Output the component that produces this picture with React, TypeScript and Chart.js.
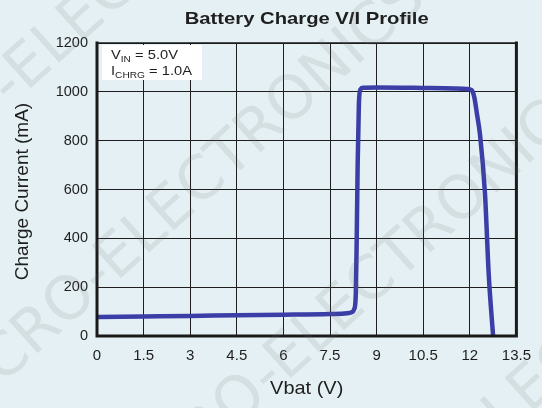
import { useEffect, useRef } from 'react';
import { Chart, registerables } from 'chart.js';

Chart.register(...registerables);

// ---- data ----
const vbat = [0, 1.5, 3, 4.5, 6, 7.5, 8.05, 8.2, 8.28, 8.33, 8.36, 8.39, 8.43, 8.48, 8.56, 9, 10.5, 11.5, 11.9, 12.05, 12.1, 12.15, 12.23, 12.33, 12.49, 12.61, 12.75];
const chargeCurrent = [78, 80, 82, 85, 87, 90, 93, 97, 110, 170, 400, 700, 950, 1010, 1017, 1018, 1016, 1014, 1012, 1008, 998, 975, 910, 823, 580, 250, 0];
const xTickLabels = ['0', '1.5', '3', '4.5', '6', '7.5', '9', '10.5', '12', '13.5'];
const yTickLabels = ['0', '200', '400', '600', '800', '1000', '1200'];
const titleText = 'Battery Charge V/I Profile';
const xTitle = 'Vbat (V)';
const yTitle = 'Charge Current (mA)';
const noteLines = [
  [{ t: 'V' }, { t: 'IN', sub: true }, { t: ' = 5.0V' }],
  [{ t: 'I' }, { t: 'CHRG', sub: true }, { t: ' = 1.0A' }],
];
const watermark = 'MICRO-ELECTRONICS';

const FONT = '"Liberation Sans", Arial, Helvetica, sans-serif';
const TEXT = '#1e1e1e';

function scaledText(ctx: CanvasRenderingContext2D, text: string, x: number, y: number, font: string, sx: number, align: CanvasTextAlign) {
  ctx.save();
  ctx.font = font;
  ctx.textAlign = align;
  ctx.textBaseline = 'alphabetic';
  ctx.translate(x, y);
  ctx.scale(sx, 1);
  ctx.fillText(text, 0, 0);
  ctx.restore();
}

const customPlugin = {
  id: 'custom',
  beforeDraw(chart: any) {
    const ctx = chart.ctx as CanvasRenderingContext2D;
    ctx.save();
    ctx.fillStyle = '#e4f0f4';
    ctx.fillRect(0, 0, chart.width, chart.height);
    ctx.restore();
  },
  beforeDatasetsDraw(chart: any) {
    const ctx = chart.ctx as CanvasRenderingContext2D;
    const ca = chart.chartArea;
    ctx.save();
    ctx.fillStyle = '#ffffff';
    ctx.fillRect(ca.left + 5, ca.top + 2, 100, 35);
    ctx.fillStyle = TEXT;
    const baselines = [ca.top + 16, ca.top + 32];
    noteLines.forEach((segs, i) => {
      let x = ca.left + 14;
      const y = baselines[i];
      segs.forEach((s: any) => {
        ctx.save();
        ctx.font = s.sub ? `9px ${FONT}` : `13px ${FONT}`;
        ctx.textBaseline = 'alphabetic';
        ctx.textAlign = 'left';
        ctx.translate(x, y + (s.sub ? 3 : 0));
        ctx.scale(1.13, 1);
        ctx.fillText(s.t, 0, 0);
        const w = ctx.measureText(s.t).width * 1.13;
        ctx.restore();
        x += w;
      });
    });
    ctx.restore();
  },
  afterDraw(chart: any) {
    const ctx = chart.ctx as CanvasRenderingContext2D;
    const ca = chart.chartArea;
    // frame
    ctx.save();
    ctx.strokeStyle = '#1a1a1a';
    ctx.lineCap = 'square';
    ctx.lineWidth = 3;
    ctx.beginPath();
    ctx.moveTo(ca.left, ca.top);
    ctx.lineTo(ca.left, ca.bottom);
    ctx.lineTo(ca.right, ca.bottom);
    ctx.lineTo(ca.right, ca.top);
    ctx.stroke();
    ctx.lineWidth = 1.5;
    ctx.beginPath();
    ctx.moveTo(ca.left, ca.top);
    ctx.lineTo(ca.right, ca.top);
    ctx.stroke();
    ctx.restore();

    // titles
    ctx.save();
    ctx.fillStyle = TEXT;
    scaledText(ctx, titleText, (ca.left + ca.right) / 2, 24, `bold 17px ${FONT}`, 1.19, 'center');
    scaledText(ctx, xTitle, (ca.left + ca.right) / 2, 394, `19px ${FONT}`, 1.05, 'center');
    ctx.save();
    ctx.translate(28, (ca.top + ca.bottom) / 2 + 2);
    ctx.rotate(-Math.PI / 2);
    ctx.font = `19px ${FONT}`;
    ctx.textAlign = 'center';
    ctx.textBaseline = 'alphabetic';
    ctx.fillText(yTitle, 0, 0);
    ctx.restore();
    ctx.restore();

    // watermark
    ctx.save();
    ctx.fillStyle = 'rgba(110,110,110,0.13)';
    ctx.font = `60px "DejaVu Sans", sans-serif`;
    ctx.textBaseline = 'middle';
    const starts = [[-150, 230], [-60, 420], [110, 520], [300, 600]];
    starts.forEach(([x, y]) => {
      ctx.save();
      ctx.translate(x, y);
      ctx.rotate(-42 * Math.PI / 180);
      ctx.fillText(watermark, 0, 0);
      ctx.restore();
    });
    ctx.restore();
  },
};

export default function App() {
  const ref = useRef<HTMLCanvasElement | null>(null);
  useEffect(() => {
    document.body.style.margin = '0';
    const canvas = ref.current;
    if (!canvas) return;
    const chart = new Chart(canvas, {
      type: 'line',
      data: {
        datasets: [
          {
            data: vbat.map((v, i) => ({ x: v, y: chargeCurrent[i] })),
            borderColor: '#3a3ea6',
            borderWidth: 4.5,
            pointRadius: 0,
            cubicInterpolationMode: 'monotone',
            fill: false,
          },
        ],
      },
      options: {
        responsive: false,
        animation: false,
        devicePixelRatio: 1,
        layout: { padding: { left: 0, right: 24, top: 43, bottom: 0 } },
        plugins: { legend: { display: false }, tooltip: { enabled: false }, title: { display: false } },
        scales: {
          x: {
            type: 'linear',
            min: 0,
            max: 13.5,
            afterFit: (s: any) => { s.height = 72; },
            ticks: {
              stepSize: 1.5,
              padding: 11,
              color: TEXT,
              font: { size: 15, family: FONT },
              maxRotation: 0,
              autoSkip: false,
              callback: (v: any) => xTickLabels[Math.round(Number(v) / 1.5)] ?? '',
            },
            grid: { color: '#1e1e1e', lineWidth: 1, drawTicks: false },
            border: { display: false },
          },
          y: {
            min: 0,
            max: 1200,
            afterFit: (s: any) => { s.width = 97; },
            ticks: {
              stepSize: 200,
              padding: 9,
              color: TEXT,
              font: { size: 14.5, family: FONT },
              callback: (v: any) => yTickLabels[Math.round(Number(v) / 200)] ?? '',
            },
            grid: { color: '#1e1e1e', lineWidth: 1, drawTicks: false },
            border: { display: false },
          },
        },
      },
      plugins: [customPlugin],
    } as any);
    return () => chart.destroy();
  }, []);
  return <canvas ref={ref} width={542} height={408} style={{ display: 'block' }} />;
}
